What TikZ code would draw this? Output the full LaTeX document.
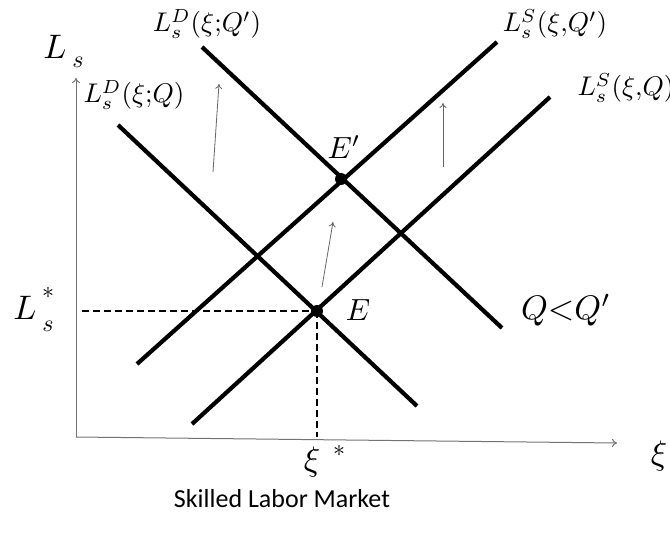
\documentclass[tikz,border=0pt]{standalone}
\usepackage{fontspec}
\newfontfamily\capfont{Carlito}
\usetikzlibrary{arrows.meta}
\begin{document}
\begin{tikzpicture}[x=1pt,y=-1pt,
  curve/.style={line width=4.2pt},
  guide/.style={line width=2.6pt, dash pattern=on 7pt off 4pt},
  axis/.style={line width=1pt, draw=black!55, -{To[length=5pt,width=8pt]}},
  shiftarrow/.style={line width=0.8pt, draw=black!60, -{To[length=5pt,width=7pt]}},
  dot/.style={circle, fill=black, inner sep=0pt, minimum size=12pt},
  lab/.style={inner sep=0pt, font=\fontsize{10}{12}\selectfont, scale=2.7},
  biglab/.style={inner sep=0pt, font=\fontsize{10}{12}\selectfont, scale=3.4},
  sublab/.style={inner sep=0pt, font=\fontsize{10}{12}\selectfont, scale=2.4}]
\useasboundingbox (0,0) rectangle (670,538);
% axes
\coordinate (O) at (76,437);
\coordinate (ytop) at (76,78);
\coordinate (xend) at (617,443);
\draw[axis] (O) -- (ytop);
\draw[axis] (O) -- (xend);
% curve end points
\coordinate (dq1) at (118,125);
\coordinate (dq2) at (417,406);
\coordinate (dqp1) at (202,47);
\coordinate (dqp2) at (502,328);
\coordinate (sqp1) at (137,364);
\coordinate (sqp2) at (497,42);
\coordinate (sq1) at (192,424);
\coordinate (sq2) at (550,97);
\draw[curve] (dq1) -- (dq2);
\draw[curve] (dqp1) -- (dqp2);
\draw[curve] (sqp1) -- (sqp2);
\draw[curve] (sq1) -- (sq2);
% equilibria
\node[dot] (E) at (317,311) {};
\node[dot] (Ep) at (341,179) {};
\coordinate (Lstar) at (82,311);
\coordinate (xistar) at (317,437);
\draw[guide] (Lstar) -- (E.center);
\draw[guide] (E.center) -- (xistar);
% shift arrows
\coordinate (a1s) at (213,172); \coordinate (a1e) at (219,84);
\coordinate (a2s) at (322,287); \coordinate (a2e) at (333,222);
\coordinate (a3s) at (443,167); \coordinate (a3e) at (443,103);
\draw[shiftarrow] (a1s) -- (a1e);
\draw[shiftarrow] (a2s) -- (a2e);
\draw[shiftarrow] (a3s) -- (a3e);
% labels
\node[lab] (lDQp) at (207,24) {$L_s^D(\xi{;}Q')$};
\node[lab] (lDQ) at (134,95) {$L_s^D(\xi{;}Q)$};
\node[lab] (lSQp) at (555,24) {$L_s^S(\xi{,}Q')$};
\node[lab] (lSQ) at (626,88) {$L_s^S(\xi{,}Q)$};
\node[biglab] (lLs) at (55,47) {$L$};
\node[sublab] (lLss) at (78,62) {$s$};
\node[biglab, scale=0.9] (lEp) at (344,147) {$E'$};
\node[biglab, scale=0.9] (lE) at (358,310) {$E$};
\node[biglab] (lQQ) at (566,310) {$Q{<}Q'$};
\node[biglab] (lLstar) at (25,308) {$L$};
\node[sublab] (lLstar1) at (48,293) {$*$};
\node[sublab] (lLstar2) at (48,326) {$s$};
\node[biglab] (lxistar) at (312,462) {$\xi$};
\node[sublab] (lxistar1) at (339,451) {$*$};
\node[biglab] (lxi) at (659,456) {$\xi$};
\node[inner sep=0pt, font=\capfont\fontsize{26}{31}\selectfont] (cap) at (282,499) {Skilled Labor Market};
\end{tikzpicture}
\end{document}
